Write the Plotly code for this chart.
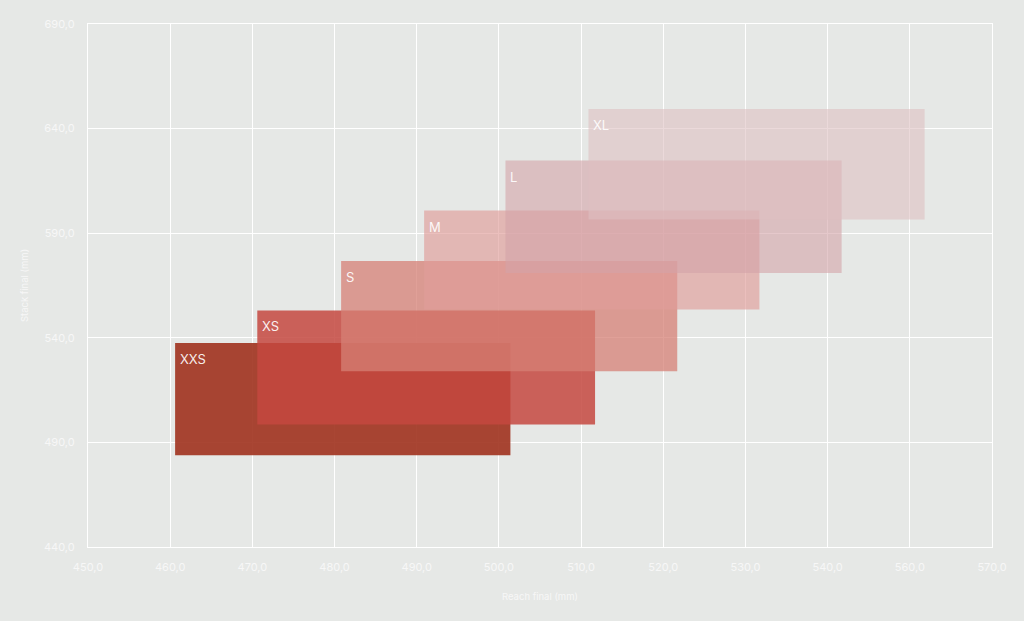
import plotly.graph_objects as go

# Data
sizes = ["XXS", "XS", "S", "M", "L", "XL"]
reach_min = [460.6, 470.6, 480.8, 490.9, 500.8, 510.9]
reach_max = [501.4, 511.7, 521.7, 531.7, 541.7, 551.8]
stack_min = [483.8, 498.6, 524.0, 553.5, 571.0, 596.5]
stack_max = [537.5, 553.1, 576.7, 600.8, 624.7, 649.4]
colors = ["rgba(160,50,30,0.9)", "rgba(196,72,64,0.85)", "rgba(214,128,118,0.75)",
          "rgba(224,156,154,0.65)", "rgba(212,164,168,0.6)", "rgba(222,192,194,0.6)"]

x_tickvals = [450, 460, 470, 480, 490, 500, 510, 520, 530, 540, 550, 560]
x_ticktext = ["450,0", "460,0", "470,0", "480,0", "490,0", "500,0", "510,0",
              "520,0", "530,0", "540,0", "560,0", "570,0"]
y_tickvals = [440, 490, 540, 590, 640, 690]
y_ticktext = ["440,0", "490,0", "540,0", "590,0", "640,0", "690,0"]

fig = go.Figure()
for i, s in enumerate(sizes):
    x0, x1 = reach_min[i], reach_max[i]
    y0, y1 = stack_min[i], stack_max[i]
    fig.add_trace(go.Scatter(
        x=[x0, x1, x1, x0, x0], y=[y0, y0, y1, y1, y0],
        mode="lines", fill="toself", fillcolor=colors[i],
        line=dict(width=0), hoverinfo="text", text=s, showlegend=False))
    fig.add_annotation(x=x0, y=y1, text=s, showarrow=False,
                       xanchor="left", yanchor="middle", xshift=3, yshift=-16,
                       font=dict(color="rgba(255,255,255,0.92)", size=13, family="Inter"))

axis_common = dict(showgrid=True, gridcolor="#ffffff", gridwidth=1.2,
                   showline=True, linecolor="#ffffff", linewidth=1.2, mirror=True,
                   zeroline=False, ticks="",
                   tickfont=dict(color="#f7f7f7", size=11, family="Inter"))

fig.update_layout(
    width=1024, height=621,
    margin=dict(l=88, r=32, t=24, b=74),
    paper_bgcolor="#e6e8e6", plot_bgcolor="#e6e8e6",
    xaxis=dict(range=[450, 560], tickvals=x_tickvals, ticktext=x_ticktext,
               title=dict(text="Reach final (mm)", font=dict(color="#f7f7f7", size=9.5, family="Inter"),
                          standoff=20),
               ticklabelstandoff=10, **axis_common),
    yaxis=dict(range=[440, 690], tickvals=y_tickvals, ticktext=y_ticktext,
               title=dict(text="Stack final (mm)", font=dict(color="#f7f7f7", size=9.5, family="Inter"),
                          standoff=13),
               ticklabelstandoff=10, **axis_common),
)

fig.write_html("out.html")
